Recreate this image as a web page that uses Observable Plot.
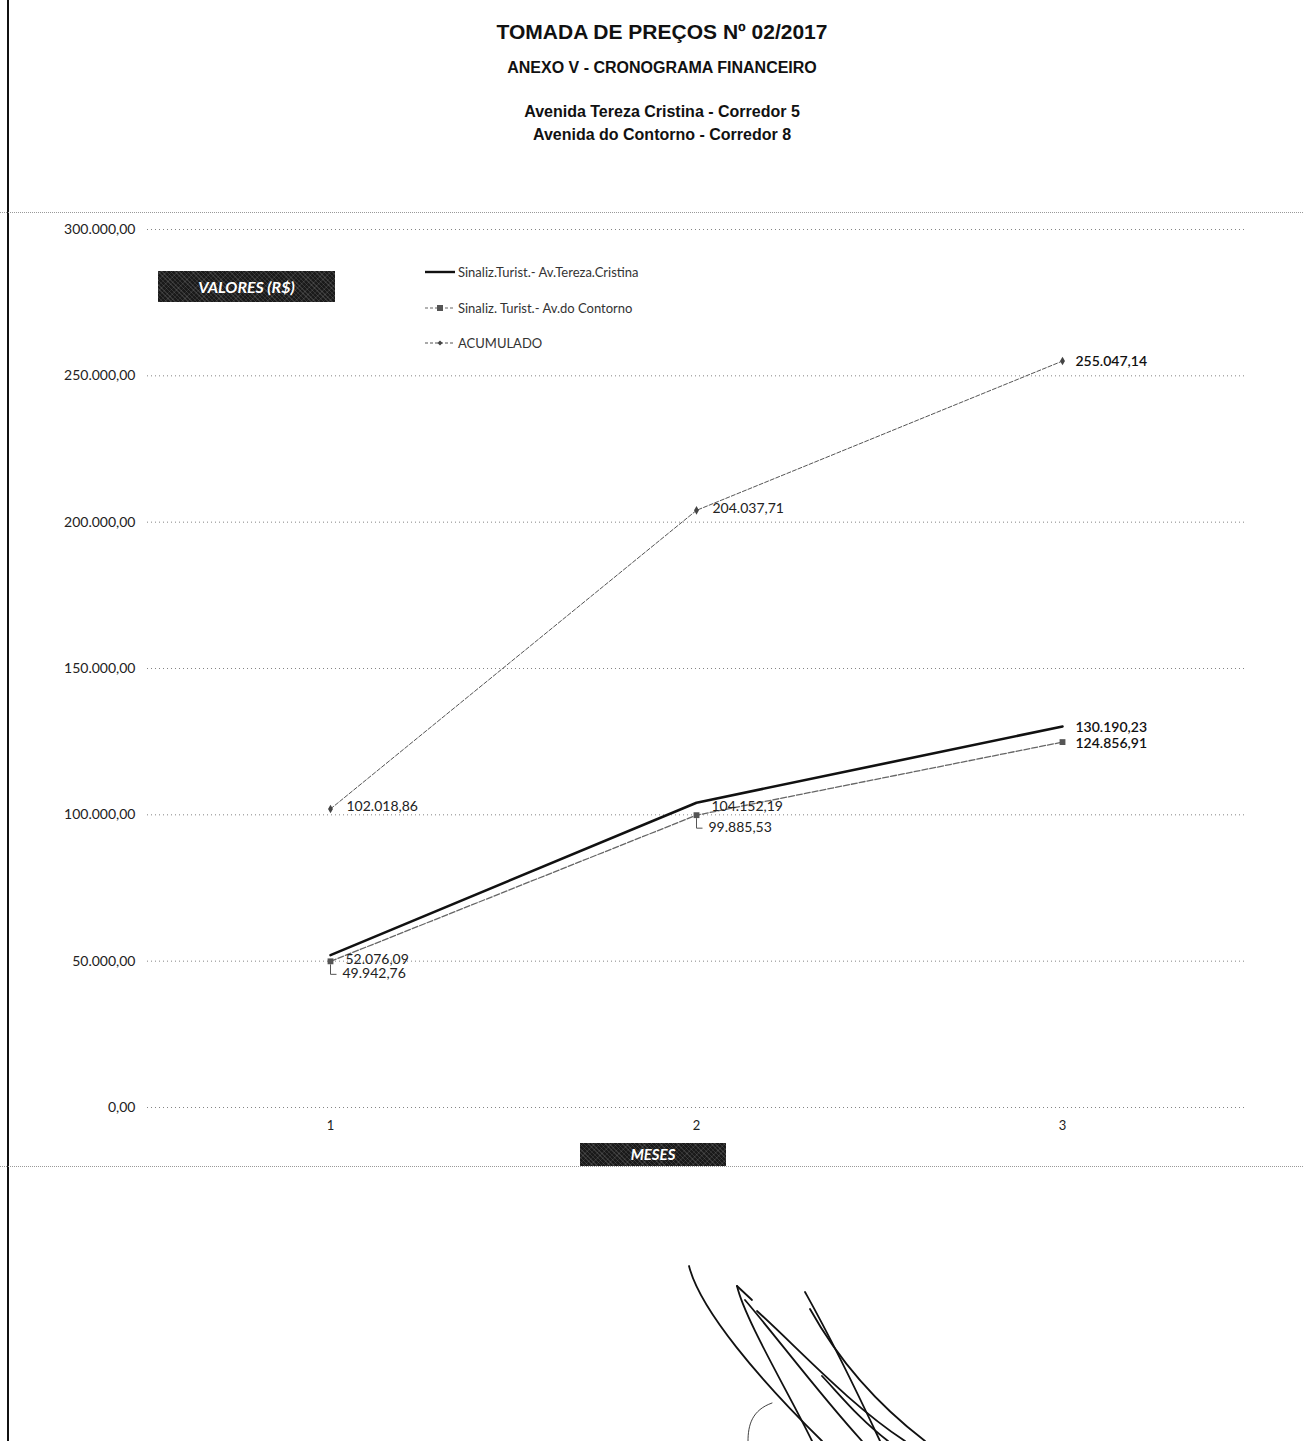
<!DOCTYPE html>
<html><head><meta charset="utf-8">
<script src="https://cdn.jsdelivr.net/npm/d3@7"></script>
<script src="https://cdn.jsdelivr.net/npm/@observablehq/plot@0.6"></script>
<style>
body{margin:0;background:#fff;}
#page{position:relative;width:1303px;height:1441px;overflow:hidden;font-family:"Liberation Sans",Arial,sans-serif;color:#111;}
.leftborder{position:absolute;left:7px;top:0;width:2px;height:1441px;background:#111;}
.hdot{position:absolute;left:0;width:1303px;border-top:1px dotted #999;}
.t{position:absolute;left:412px;width:500px;text-align:center;font-weight:bold;white-space:nowrap;}
#chart{position:absolute;left:0;top:180px;}
.box{position:absolute;background:#1a1a1a;color:#fff;font-family:Lato,"Open Sans",sans-serif;font-weight:bold;font-style:italic;text-align:center;
 background-image:repeating-linear-gradient(45deg,rgba(255,255,255,0.12) 0 1px,transparent 1px 3px),repeating-linear-gradient(-45deg,rgba(255,255,255,0.08) 0 1px,transparent 1px 4px);}
.legend{position:absolute;left:424px;top:262px;font-family:Lato,"Open Sans",sans-serif;font-size:13px;color:#333;}
.legend .row{position:absolute;left:0;white-space:nowrap;height:20px;display:flex;align-items:center;}
.legend svg{display:block;}
</style></head><body>
<div id="page">
  <div class="leftborder"></div>
  <div class="hdot" style="top:212px"></div>
  <div class="hdot" style="top:1166px"></div>
  <div class="t" style="top:19px;font-size:21px;line-height:26px;">TOMADA DE PREÇOS Nº 02/2017</div>
  <div class="t" style="top:58px;font-size:16px;line-height:20px;">ANEXO V - CRONOGRAMA FINANCEIRO</div>
  <div class="t" style="top:102px;font-size:16px;line-height:20px;">Avenida Tereza Cristina - Corredor 5</div>
  <div class="t" style="top:125px;font-size:16px;line-height:20px;">Avenida do Contorno - Corredor 8</div>
  <div id="chart"></div>
  <div class="box" style="left:158px;top:271px;width:177px;height:31px;line-height:31px;font-size:16px;">VALORES (R$)</div>
  <div class="box" style="left:580px;top:1143px;width:146px;height:23px;line-height:23px;font-size:15px;">MESES</div>
  <div class="legend" id="legend"></div>
  <svg style="position:absolute;left:0;top:0" width="1303" height="1441" fill="none" stroke="#111" stroke-width="1.8" stroke-linecap="round">
    <path d="M689,1266 C700,1310 760,1380 822,1441"/>
    <path d="M737,1286 C745,1320 790,1395 812,1441"/>
    <path d="M737,1286 L752,1300"/>
    <path d="M745,1300 C775,1335 820,1395 862,1441"/>
    <path d="M757,1311 C800,1350 850,1405 905,1441"/>
    <path d="M810,1309 C830,1345 865,1395 925,1441"/>
    <path d="M805,1292 C815,1310 835,1345 880,1441"/>
    <path d="M822,1376 C840,1395 860,1420 888,1441"/>
    <path d="M772,1403 C752,1410 748,1425 748,1441" stroke-width="0.8"/>
  </svg>
</div>
<script>
const months = [1, 2, 3];
const seriesNames = ["Sinaliz.Turist.- Av.Tereza.Cristina", "Sinaliz. Turist.- Av.do Contorno", "ACUMULADO"];
const terezaValues = [52076.09, 104152.19, 130190.23];
const contornoValues = [49942.76, 99885.53, 124856.91];
const acumuladoValues = [102018.86, 204037.71, 255047.14];
const yTicks = [0, 50000, 100000, 150000, 200000, 250000, 300000];

const locale = d3.formatLocale({decimal: ",", thousands: ".", grouping: [3], currency: ["R$", ""]});
const fmt = locale.format(",.2f");

const toRows = (vals, name) => months.map((m, i) => ({month: m, value: vals[i], series: name}));
const tereza = toRows(terezaValues, seriesNames[0]);
const contorno = toRows(contornoValues, seriesNames[1]);
const acumulado = toRows(acumuladoValues, seriesNames[2]);

const lastM = months[months.length - 1];
const labelFont = "Lato, 'Open Sans', sans-serif";

// small "└" leader symbol from the point to a displaced label
const leaderSymbol = {
  draw(context) {
    context.moveTo(0, 3);
    context.lineTo(0, 13);
    context.lineTo(6, 13);
  }
};

const plot = Plot.plot({
  width: 1303, height: 1010,
  marginLeft: 147, marginRight: 58, marginTop: 49, marginBottom: 83,
  style: {fontFamily: labelFont, fontSize: "14px", color: "#222", background: "transparent"},
  x: {type: "point", domain: months, padding: 0.5},
  y: {domain: [0, 300000]},
  marks: [
    Plot.gridY(yTicks, {stroke: "#777", strokeOpacity: 0.9, strokeDasharray: "1,3"}),
    Plot.axisY(yTicks, {tickSize: 0, tickPadding: 12, tickFormat: fmt, label: null, fontSize: 14}),
    Plot.axisX(months, {tickSize: 0, tickPadding: 13, label: null, fontSize: 13}),
    Plot.line(acumulado, {x: "month", y: "value", stroke: "#555", strokeWidth: 1, strokeDasharray: "4,2"}),
    Plot.dot(acumulado, {x: "month", y: "value", symbol: "diamond", r: 2.6, fill: "#444", stroke: "none"}),
    Plot.line(contorno, {x: "month", y: "value", stroke: "#666", strokeWidth: 1.3, strokeDasharray: "6,2"}),
    Plot.dot(contorno, {x: "month", y: "value", symbol: "square", r: 3.3, fill: "#555", stroke: "none"}),
    Plot.line(tereza, {x: "month", y: "value", stroke: "#111", strokeWidth: 2.6}),
    // leader lines for displaced labels
    Plot.dot(contorno.filter(d => d.month < lastM), {x: "month", y: "value", symbol: leaderSymbol, r: 4, fill: "none", stroke: "#555", strokeWidth: 1}),
    // labels
    Plot.text(acumulado.filter(d => d.month < lastM), {x: "month", y: "value", text: d => fmt(d.value), textAnchor: "start", dx: 16, dy: -2, fill: "#222"}),
    Plot.text(acumulado.filter(d => d.month === lastM), {x: "month", y: "value", text: d => fmt(d.value), textAnchor: "start", dx: 13, dy: 0, fill: "#111", fontWeight: 600}),
    Plot.text(tereza.filter(d => d.month < lastM), {x: "month", y: "value", text: d => fmt(d.value), textAnchor: "start", dx: 15, dy: 4, fill: "#222"}),
    Plot.text(tereza.filter(d => d.month === lastM), {x: "month", y: "value", text: d => fmt(d.value), textAnchor: "start", dx: 13, dy: 1, fill: "#111", fontWeight: 600}),
    Plot.text(contorno.filter(d => d.month < lastM), {x: "month", y: "value", text: d => fmt(d.value), textAnchor: "start", dx: 12, dy: 12, fill: "#222"}),
    Plot.text(contorno.filter(d => d.month === lastM), {x: "month", y: "value", text: d => fmt(d.value), textAnchor: "start", dx: 13, dy: 1, fill: "#111", fontWeight: 600})
  ]
});
document.getElementById("chart").appendChild(plot);

// legend
const legendStyles = [
  {dash: null, width: 2.4, color: "#111", marker: null},
  {dash: "3,2", width: 1.2, color: "#666", marker: "square"},
  {dash: "3,2", width: 1.1, color: "#555", marker: "diamond"}
];
const legendTops = [0, 36, 71];
const lg = document.getElementById("legend");
seriesNames.forEach((name, i) => {
  const s = legendStyles[i];
  const row = document.createElement("div");
  row.className = "row";
  row.style.top = legendTops[i] + "px";
  let mk = "";
  if (s.marker === "square") mk = `<rect x="13" y="6" width="6" height="6" fill="#555"/>`;
  if (s.marker === "diamond") mk = `<path d="M16,6.5 L18.5,9 L16,11.5 L13.5,9Z" fill="#444"/>`;
  row.innerHTML = `<svg width="34" height="18"><line x1="1" x2="31" y1="9" y2="9" stroke="${s.color}" stroke-width="${s.width}" ${s.dash ? `stroke-dasharray="${s.dash}"` : ""}/>${mk}</svg><span>${name}</span>`;
  lg.appendChild(row);
});
</script>
</body></html>
